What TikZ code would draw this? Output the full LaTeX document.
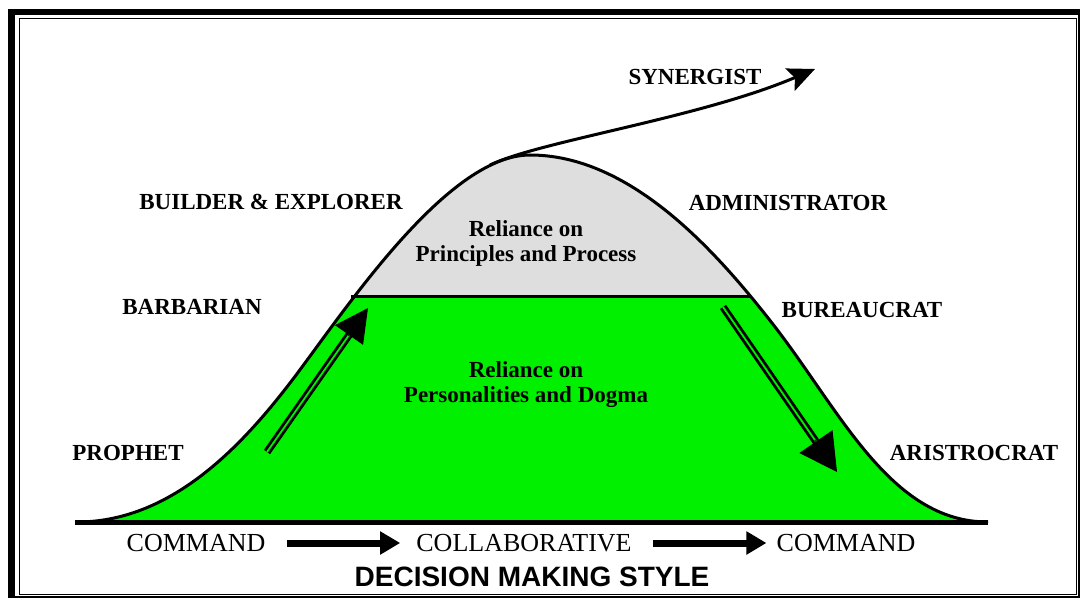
\documentclass[tikz,border=0pt]{standalone}
\usepackage{fontspec}
\setmainfont{Liberation Serif}
\newfontfamily\headfont{Liberation Sans}
\usetikzlibrary{positioning,calc,arrows.meta}
\definecolor{capgray}{RGB}{222,222,222}
\definecolor{basegreen}{RGB}{0,240,0}

\begin{document}
\begin{tikzpicture}[x=1pt,y=-1pt]
        \tikzstyle{role}=[inner sep=0pt, font=\fontsize{23}{25}\selectfont\bfseries];
        \tikzstyle{mode}=[inner sep=0pt, font=\fontsize{26}{28}\selectfont];
        \tikzstyle{reliance}=[inner sep=0pt, align=center, font=\fontsize{23}{25}\selectfont\bfseries];
        \tikzstyle{flow}=[line width=7pt, -{Triangle[length=20pt,width=22pt]}];
        \tikzstyle{rail}=[line width=7.5pt, postaction={draw=basegreen, line width=1.8pt}];
        \tikzstyle{railhead}=[line width=1pt];
        \def\bell{(77,522) .. controls (170,522) and (240,448) .. (290,383) .. controls (340,318) and (445,155) .. (530,155) .. controls (630,155) and (715,250) .. (772,323) .. controls (840,410) and (890,522) .. (988,522)}
        \useasboundingbox (0,0) rectangle (1081,599);
        \fill[white] (0,0) rectangle (1081,599);
        \fill (8,9) rectangle (1080,15);
        \fill (8,9) rectangle (15,598);
        \draw[line width=1.5pt] (11,12) rectangle (1079,597);
        \draw[line width=0.8pt] (19,18) rectangle (1076,594);
        \begin{scope}
            \clip (0,0) rectangle (1081,296);
            \fill[capgray] \bell -- cycle;
        \end{scope}
        \begin{scope}
            \clip (0,296) rectangle (1081,520);
            \fill[basegreen] \bell -- cycle;
        \end{scope}
        \draw[line width=3pt] (351,296) -- (750,296);
        \draw[line width=3pt] \bell;
        \draw[line width=5pt] (75,522) -- (988,522);
        \coordinate (syn0) at (490,165);
        \coordinate (syn1) at (815,69);
        \draw[line width=3pt, -{Stealth[length=27pt,width=24pt,inset=5pt]}] (syn0) .. controls (540,141) and (700,118) .. (syn1);
        \coordinate (upT) at (267,452);
        \coordinate (upH) at (368,308);
        \draw[rail] (upT) -- ($(upH)!30pt!(upT)$);
        \draw[railhead, -{Triangle[length=33pt,width=34pt]}] ($(upH)!34pt!(upT)$) -- (upH);
        \coordinate (dnT) at (723,307);
        \coordinate (dnH) at (837,472);
        \draw[rail] (dnT) -- ($(dnH)!35pt!(dnT)$);
        \draw[railhead, -{Triangle[length=37pt,width=40pt]}] ($(dnH)!39pt!(dnT)$) -- (dnH);
        \node[role] (syn) at (695,77) {SYNERGIST};
        \node[role] (build) at (271,202) {BUILDER \& EXPLORER};
        \node[role] (admin) at (788,203) {ADMINISTRATOR};
        \node[role] (barb) at (192,307) {BARBARIAN};
        \node[role] (bur) at (862,310) {BUREAUCRAT};
        \node[role] (pro) at (128,453) {PROPHET};
        \node[role] (ari) at (974,453) {ARISTROCRAT};
        \node[reliance] (princ) at (526,243) {Reliance on\\Principles and Process};
        \node[reliance] (pers) at (526,385) {Reliance on\\Personalities and Dogma};
        \node[mode] (cmdA) at (196,543) {COMMAND};
        \node[mode] (collab) at (524,543) {COLLABORATIVE};
        \node[mode] (cmdB) at (846,543) {COMMAND};
        \node[below = 15pt of collab, xshift=8pt, inner sep=0pt, font=\headfont\fontsize{28}{30}\selectfont\bfseries] (dms) {DECISION MAKING STYLE};
        \draw[flow] ([xshift=21pt]cmdA.east) -- ([xshift=-16pt]collab.west);
        \draw[flow] ([xshift=21pt]collab.east) -- ([xshift=-10pt]cmdB.west);
    \end{tikzpicture}
\end{document}
